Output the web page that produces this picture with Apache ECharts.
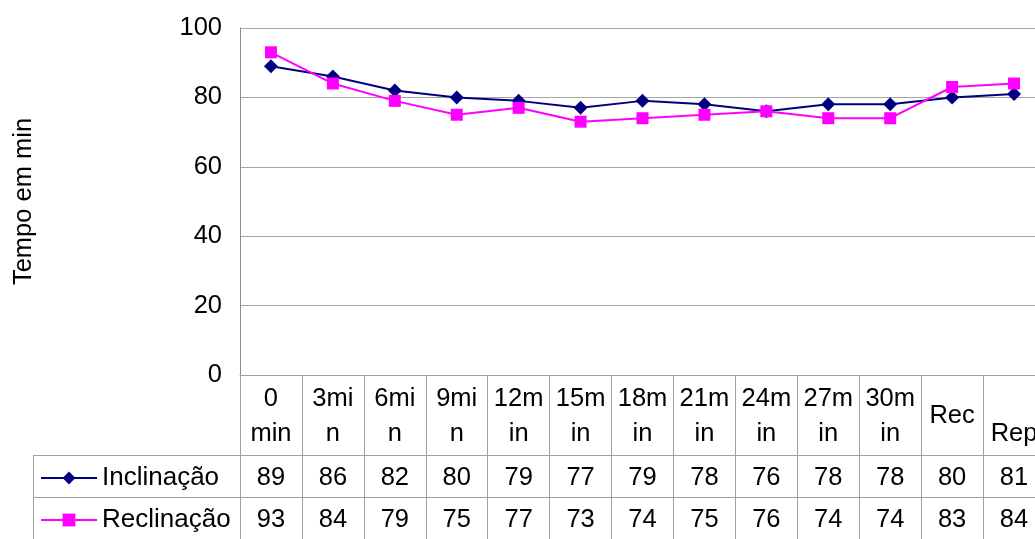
<!DOCTYPE html>
<html>
<head>
<meta charset="utf-8">
<script src="https://cdn.jsdelivr.net/npm/echarts@6/dist/echarts.min.js"></script>
<style>
  html, body { margin: 0; padding: 0; background: #fff; }
  #chart { width: 1035px; height: 539px; }
</style>
</head>
<body>
<div id="chart"></div>
<script>
// Time points (as wrapped in the table header) and measured times
const categories = ['0 min', '3min', '6min', '9min', '12min', '15min', '18min', '21min', '24min', '27min', '30min', 'Rec', 'Rep'];
const headerText = ['0\nmin', '3mi\nn', '6mi\nn', '9mi\nn', '12m\nin', '15m\nin', '18m\nin', '21m\nin', '24m\nin', '27m\nin', '30m\nin', 'Rec', '\nRep'];
const inclinacao = [89, 86, 82, 80, 79, 77, 79, 78, 76, 78, 78, 80, 81];
const reclinacao = [93, 84, 79, 75, 77, 73, 74, 75, 76, 74, 74, 83, 84];
const yTicks = { min: 0, max: 100, interval: 20 };

const FONT = '"Liberation Sans", Arial, sans-serif';
const FS = 25.5;
const GRID_GRAY = '#a6a6a6';
const TABLE_GRAY = '#a0a0a0';

const chart = echarts.init(document.getElementById('chart'), null, { renderer: 'canvas' });

// Shared settings for the axes that make up the data table rows
function tableAxis(values, margin) {
  return {
    type: 'category',
    data: categories,
    position: 'bottom',
    gridIndex: 0,
    boundaryGap: true,
    axisLine: { show: false },
    axisTick: { show: false },
    splitLine: { show: false },
    axisLabel: {
      interval: 0,
      hideOverlap: false,
      margin: margin,
      verticalAlign: 'middle',
      fontFamily: FONT,
      fontSize: FS,
      color: '#000',
      formatter: (v, i) => String(values[i])
    }
  };
}

chart.setOption({
  animation: false,
  backgroundColor: '#fff',
  grid: { left: 240, top: 28, width: 805, bottom: 164, containLabel: false, outerBoundsMode: 'none' },
  legend: {
    orient: 'vertical',
    left: 40,
    top: 465,
    padding: 0,
    itemWidth: 56,
    itemHeight: 16,
    itemGap: 16,
    textStyle: { fontFamily: FONT, fontSize: 26, color: '#000', lineHeight: 26 },
    data: ['Inclinação', 'Reclinação']
  },
  xAxis: [
    {
      type: 'category',
      data: categories,
      position: 'bottom',
      boundaryGap: true,
      axisLine: { show: true, lineStyle: { color: TABLE_GRAY, width: 1 } },
      axisTick: { show: true, interval: 0, length: 164, lineStyle: { color: TABLE_GRAY, width: 1 } },
      splitLine: { show: false },
      axisLabel: {
        interval: 0,
        hideOverlap: false,
        margin: 41,
        verticalAlign: 'middle',
        lineHeight: 35,
        fontFamily: FONT,
        fontSize: FS,
        color: '#000',
        formatter: (v, i) => headerText[i]
      }
    },
    tableAxis(inclinacao, 103),
    tableAxis(reclinacao, 145)
  ],
  yAxis: {
    type: 'value',
    min: yTicks.min,
    max: yTicks.max,
    interval: yTicks.interval,
    name: 'Tempo em min',
    nameLocation: 'middle',
    nameRotate: 90,
    nameGap: 203,
    nameTextStyle: { fontFamily: FONT, fontSize: FS, color: '#000' },
    axisLine: { show: true, lineStyle: { color: '#8c8c8c', width: 1 } },
    axisTick: { show: false },
    splitLine: { show: true, lineStyle: { color: GRID_GRAY, width: 1 } },
    axisLabel: { margin: 18, fontFamily: FONT, fontSize: FS, color: '#000' }
  },
  series: [
    {
      name: 'Inclinação',
      type: 'line',
      data: inclinacao,
      symbol: 'diamond',
      symbolSize: 14,
      color: '#000080',
      lineStyle: { color: '#000080', width: 2 },
      itemStyle: { color: '#000080' },
      z: 2
    },
    {
      name: 'Reclinação',
      type: 'line',
      data: reclinacao,
      symbol: 'rect',
      symbolSize: 12,
      color: '#ff00ff',
      lineStyle: { color: '#ff00ff', width: 2 },
      itemStyle: { color: '#ff00ff' },
      z: 3
    }
  ],
  // Row separators and left border of the legend column in the data table
  graphic: [
    { type: 'line', shape: { x1: 33, y1: 455.5, x2: 1035, y2: 455.5 }, style: { stroke: TABLE_GRAY, lineWidth: 1 } },
    { type: 'line', shape: { x1: 33, y1: 497.5, x2: 1035, y2: 497.5 }, style: { stroke: TABLE_GRAY, lineWidth: 1 } },
    { type: 'line', shape: { x1: 33.5, y1: 455, x2: 33.5, y2: 539 }, style: { stroke: TABLE_GRAY, lineWidth: 1 } }
  ]
});
</script>
</body>
</html>
